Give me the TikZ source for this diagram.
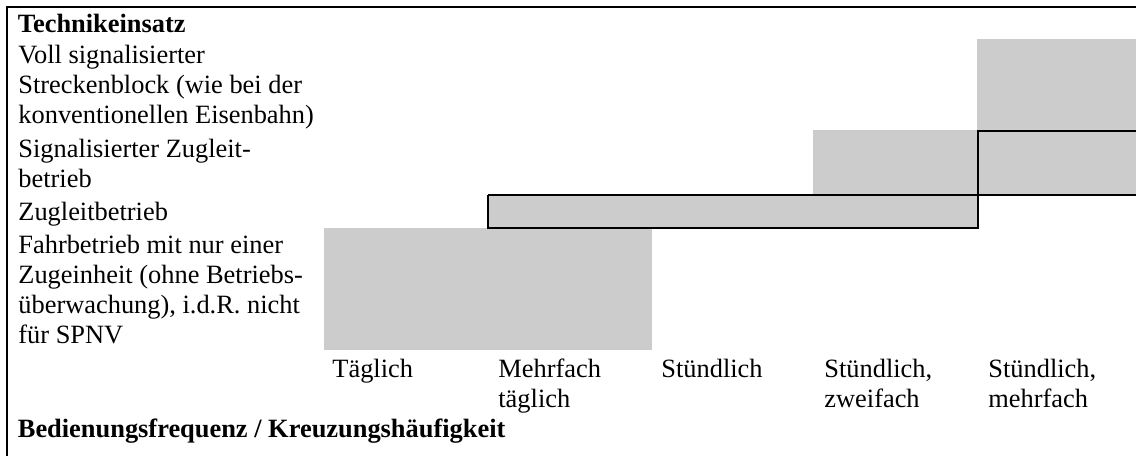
\documentclass[tikz,border=0pt]{standalone}
\usepackage{fontspec}
\setmainfont{Liberation Serif}
\definecolor{cellGrey}{HTML}{CCCCCC}
\tikzset{
  txt/.style  = {anchor=base west, inner sep=0pt, align=left,
                 font=\fontsize{13.2}{15}\selectfont},
  hd/.style   = {txt, font=\fontsize{13.2}{15}\selectfont\bfseries},
  rule/.style = {draw=black, line width=0.75pt},
  frm/.style  = {draw=black, line width=1pt},
}

\begin{document}
\begin{tikzpicture}[x=0.5pt, y=-0.5pt]
  \useasboundingbox (0,0) rectangle (1136,456);
  % grey cells
  \fill[cellGrey] (977,39) rectangle (1136,131);
  \fill[cellGrey] (813,130) rectangle (1136,195);
  \fill[cellGrey] (488,195) rectangle (978,228);
  \fill[cellGrey] (324,228) rectangle (652,350);
  % cell borders
  \draw[rule] (978,131) -- (1136,131);
  \draw[rule] (978,130) -- (978,228);
  \draw[rule] (488,195) -- (1136,195);
  \draw[rule] (488,195) -- (488,228) -- (979,228);
  % outer frame
  \draw[frm] (1136,6.5) -- (6.5,6.5) -- (6.5,456);
  % rows (base = last line)
  \node[hd]  (tech) at (17.5,32) {Technikeinsatz};
  \node[txt] (voll) at (18,123)
       {Voll signalisierter\\Streckenblock (wie bei der\\konventionellen Eisenbahn)};
  \node[txt] (szlb) at (18,187) {Signalisierter Zugleit-\\betrieb};
  \node[txt] (zlb)  at (18,220) {Zugleitbetrieb};
  \node[txt] (fahr) at (18,343)
       {Fahrbetrieb mit nur einer\\Zugeinheit (ohne Betriebs-\\überwachung), i.d.R. nicht\\für SPNV};
  % columns
  \foreach \x/\y/\t/\n in {332/377/{Täglich}/tgl, 498/407/{Mehrfach\\täglich}/mtgl,
                           661/377/{Stündlich}/std, 824/407/{Stündlich,\\zweifach}/std2,
                           988/407/{Stündlich,\\mehrfach}/stdm}
    \node[txt] (\n) at (\x,\y) {\t};
  \node[hd] (freq) at (17.5,437) {Bedienungsfrequenz / Kreuzungshäufigkeit};
\end{tikzpicture}
\end{document}
